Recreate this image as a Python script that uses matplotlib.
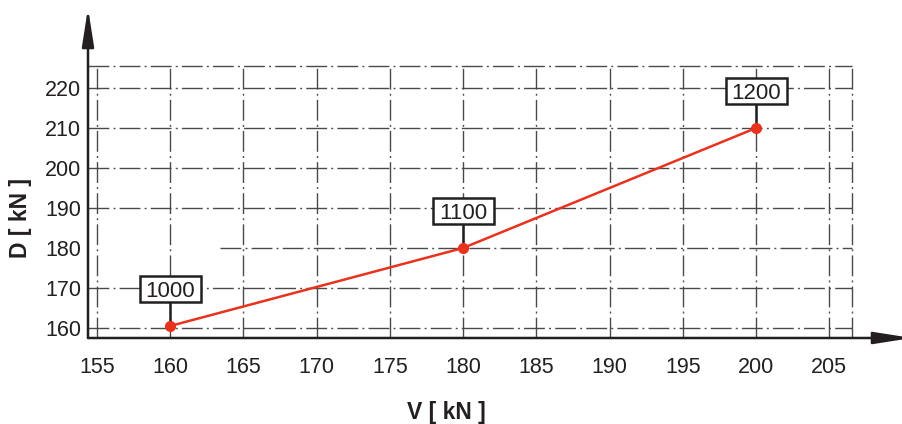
import matplotlib.pyplot as plt
from matplotlib.patches import ArrowStyle, Rectangle
from matplotlib.transforms import ScaledTranslation

plt.rcParams['font.family'] = ['Liberation Sans', 'DejaVu Sans']
plt.rcParams['lines.scale_dashes'] = False

# data
v = [160, 180, 200]
d = [160.5, 180, 210]
labels = ['1000', '1100', '1200']
x_ticks = [155, 160, 165, 170, 175, 180, 185, 190, 195, 200, 205]
y_ticks = [160, 170, 180, 190, 200, 210, 220]

W, H = 902, 424
fig = plt.figure(figsize=(W / 100, H / 100), dpi=100)
# axes box: left 88px, right 912px (arrow tip runs off the edge), bottom 338px, top 8px
ax = fig.add_axes([88 / W, (H - 338) / H, (912 - 88) / W, (338 - 8) / H])
ax.set_xlim(154.40, 154.40 + (912 - 88) / 14.65)
ax.set_ylim(157.5, 157.5 + (338 - 8) / 4.0)
for s in ax.spines.values():
    s.set_visible(False)

txt = '#231f20'
grid_c = '#4a4a4a'
dash = (0, (15, 3, 1.4, 3))
x_right = 206.55
y_top = 225.6

# grid frame
for yv in y_ticks:
    x0 = 163.4 if yv == 180 else 154.40
    ax.hlines(yv, x0, x_right, colors=grid_c, linewidth=1.0, linestyles=[dash])
ax.hlines(y_top, 154.40, x_right, colors=grid_c, linewidth=1.0, linestyles=[dash])
for xv in x_ticks + [x_right]:
    ax.vlines(xv, 157.5, y_top, colors=grid_c, linewidth=1.0, linestyles=[dash])

# series
ax.plot(v, d, color='#e8321e', linewidth=1.8, zorder=4)
ax.plot(v, d, 'o', color='#e8321e', markersize=7, zorder=5)

# labelled boxes above each point (offsets in inches, dpi 100)
for xv, yv, lab in zip(v, d, labels):
    tr = fig.dpi_scale_trans + ScaledTranslation(xv, yv, ax.transData)
    ax.plot([0, 0], [0, 0.24], color=txt, lw=1.8, transform=tr, zorder=4,
            solid_capstyle='butt')
    ax.add_patch(Rectangle((-0.305, 0.24), 0.61, 0.26, transform=tr,
                           fc='white', ec=txt, lw=1.8, zorder=6))
    ax.text(0, 0.37, lab, transform=tr, ha='center', va='center_baseline',
            fontsize=16, color=txt, zorder=7)

# axis arrows
style = ArrowStyle('-|>', head_length=2.3, head_width=0.36)
ax.annotate('', xy=(0, 1), xytext=(0, 0), xycoords='axes fraction',
            arrowprops=dict(arrowstyle=style, mutation_scale=10, color=txt,
                            lw=1.8, shrinkA=0, shrinkB=0), annotation_clip=False)
ax.annotate('', xy=(1, 0), xytext=(0, 0), xycoords='axes fraction',
            arrowprops=dict(arrowstyle=style, mutation_scale=10, color=txt,
                            lw=1.8, shrinkA=0, shrinkB=0), annotation_clip=False)

ax.set_xticks(x_ticks)
ax.set_yticks(y_ticks)
ax.set_xticklabels([str(t) for t in x_ticks])
ax.set_yticklabels([str(t) for t in y_ticks])
ax.tick_params(axis='x', length=0, pad=14, labelsize=15.5, labelcolor=txt)
ax.tick_params(axis='y', length=0, pad=5, labelsize=15.5, labelcolor=txt)

fig.text(446 / W, 1 - 412 / H, 'V [ kN ]', ha='center', va='center',
         fontsize=16.5, fontweight='bold', color=txt)
fig.text(21 / W, 1 - 218 / H, 'D [ kN ]', ha='center', va='center',
         fontsize=16.5, fontweight='bold', color=txt, rotation=90)

fig.savefig('out.png', dpi=100)
